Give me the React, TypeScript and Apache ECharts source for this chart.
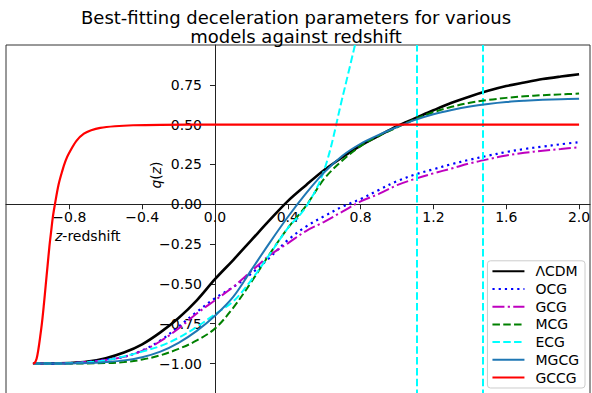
import React, { useEffect, useRef } from "react";
import * as echarts from "echarts";

const FONT = "DejaVu Sans";

const titleLines = ["Best-fitting deceleration parameters for various", "models against redshift"];
const seriesNames = ["ΛCDM", "OCG", "GCG", "MCG", "ECG", "MGCG", "GCCG"];

const xTicks = [-0.8, -0.4, 0.0, 0.4, 0.8, 1.2, 1.6, 2.0];
const yTicks = [-1.0, -0.75, -0.5, -0.25, 0.0, 0.25, 0.5, 0.75];

const zGrid = [
  -1.0, -0.9, -0.8, -0.7, -0.6, -0.5, -0.4, -0.3, -0.2, -0.1, 0.0, 0.1, 0.2, 0.3, 0.4, 0.5, 0.6, 0.7, 0.8, 0.9,
  1.0, 1.1, 1.2, 1.3, 1.4, 1.5, 1.6, 1.7, 1.8, 1.9, 2.0,
];

const lcdmQ = [
  -1.0, -1.0, -0.997, -0.988, -0.966, -0.931, -0.879, -0.804, -0.714, -0.603, -0.47, -0.35, -0.225, -0.1, 0.02,
  0.12, 0.215, 0.295, 0.368, 0.43, 0.49, 0.54, 0.59, 0.637, 0.677, 0.712, 0.742, 0.765, 0.786, 0.802, 0.816,
];
const ocgQ = [
  -1.0, -1.0, -0.997, -0.99, -0.975, -0.958, -0.918, -0.855, -0.768, -0.676, -0.59, -0.52, -0.435, -0.335, -0.225,
  -0.14, -0.075, -0.015, 0.033, 0.09, 0.145, 0.187, 0.22, 0.252, 0.28, 0.305, 0.328, 0.347, 0.362, 0.377, 0.39,
];
const gcgQ = [
  -1.0, -1.0, -0.998, -0.99, -0.977, -0.958, -0.92, -0.86, -0.78, -0.686, -0.603, -0.519, -0.42, -0.32, -0.245,
  -0.168, -0.11, -0.046, 0.018, 0.065, 0.12, 0.16, 0.194, 0.225, 0.257, 0.283, 0.306, 0.323, 0.336, 0.347, 0.358,
];
const mcgQ = [
  -1.0, -1.0, -1.0, -0.999, -0.997, -0.991, -0.975, -0.948, -0.908, -0.855, -0.78, -0.65, -0.487, -0.313, -0.15,
  -0.01, 0.16, 0.275, 0.365, 0.43, 0.483, 0.535, 0.578, 0.612, 0.637, 0.655, 0.668, 0.678, 0.685, 0.69, 0.695,
];
const ecgQ = [
  -1.0, -1.0, -0.998, -0.992, -0.98, -0.955, -0.925, -0.89, -0.838, -0.77, -0.69, -0.61, -0.475, -0.315, -0.15,
  -0.017, 0.215, 0.67, 1.15,
];
const ecgPoles = [1.114, 1.474];
const mgcgQ = [
  -1.0, -1.0, -0.999, -0.997, -0.99, -0.98, -0.96, -0.925, -0.87, -0.795, -0.7, -0.582, -0.412, -0.242, -0.08,
  0.068, 0.2, 0.305, 0.38, 0.436, 0.485, 0.53, 0.565, 0.592, 0.614, 0.63, 0.642, 0.65, 0.656, 0.66, 0.663,
];
const gccgZ = [
  -1.0, -0.99, -0.98, -0.97, -0.96, -0.95, -0.94, -0.93, -0.92, -0.91, -0.9, -0.89, -0.88, -0.86, -0.84, -0.82,
  -0.8, -0.76, -0.72, -0.68, -0.63, -0.55, -0.45, -0.3, 0.0, 0.5, 1.0, 1.5, 2.0,
];
const gccgQ = [
  -1.0, -0.995, -0.97, -0.91, -0.83, -0.74, -0.63, -0.51, -0.39, -0.27, -0.17, -0.075, -0.005, 0.12, 0.205, 0.275,
  0.325, 0.4, 0.443, 0.465, 0.48, 0.49, 0.496, 0.499, 0.5, 0.5, 0.5, 0.5, 0.5,
];

const pair = (zs: number[], qs: number[]) => qs.map((q, i) => [zs[i], q]);
const minus = (s: string) => s.replace("-", "\u2212");

const X_MIN = -1.148;
const X_MAX = 2.06;
const Y_MIN = -1.21;
const Y_MAX = 1.0;
const G_LEFT = 6;
const G_TOP = 45;
const G_W = 584;
const G_H = 352;

export default function App() {
  const ref = useRef<HTMLDivElement>(null);
  useEffect(() => {
    document.body.style.margin = "0";
    if (!ref.current) return;
    const chart = echarts.init(ref.current, null, { renderer: "svg" });
    const zeroX = ((0 - X_MIN) / (X_MAX - X_MIN)) * G_W;
    const zeroYFromBottom = ((0 - Y_MIN) / (Y_MAX - Y_MIN)) * G_H;
    const mk = (name: string, data: number[][], color: string, width: number, type: any, z: number, extra: any = {}) => ({
      type: "line",
      name,
      data,
      symbol: "none",
      showSymbol: false,
      smooth: 0.35,
      clip: true,
      z,
      itemStyle: { color },
      lineStyle: { color, width, type },
      emphasis: { disabled: true },
      ...extra,
    });
    chart.setOption({
      animation: false,
      title: {
        text: titleLines.join("\n"),
        left: "center",
        top: 7.5,
        padding: 0,
        textStyle: { fontFamily: FONT, fontSize: 18, fontWeight: "normal", color: "#000", lineHeight: 19 },
      },
      grid: {
        left: G_LEFT,
        top: G_TOP,
        width: G_W,
        height: G_H,
        containLabel: false,
        outerBoundsMode: "none",
        show: true,
        borderColor: "#333",
        borderWidth: 1,
      },
      xAxis: {
        type: "value",
        min: X_MIN,
        max: X_MAX,
        position: "bottom",
        offset: -zeroYFromBottom,
        axisLine: { show: true, onZero: false, lineStyle: { color: "#222", width: 1 } },
        axisTick: { show: true, length: 5, customValues: xTicks, lineStyle: { color: "#222" } },
        axisLabel: {
          customValues: xTicks,
          formatter: (v: number) => minus(v.toFixed(1)),
          margin: 6,
          fontFamily: FONT,
          fontSize: 14,
          color: "#000",
        },
        splitLine: { show: false },
      },
      yAxis: {
        type: "value",
        min: Y_MIN,
        max: Y_MAX,
        position: "left",
        offset: -zeroX,
        axisLine: { show: true, onZero: false, lineStyle: { color: "#222", width: 1 } },
        axisTick: { show: true, length: 5, customValues: yTicks, lineStyle: { color: "#222" } },
        axisLabel: {
          customValues: yTicks,
          formatter: (v: number) => minus(v.toFixed(2)),
          margin: 13,
          fontFamily: FONT,
          fontSize: 14,
          color: "#000",
        },
        splitLine: { show: false },
      },
      legend: {
        data: seriesNames,
        orient: "vertical",
        right: 7,
        bottom: 5,
        itemWidth: 32,
        itemHeight: 13.5,
        itemGap: 3.7,
        padding: [3.5, 6, 3.5, 4],
        selectedMode: false,
        borderColor: "#cccccc",
        borderWidth: 1,
        borderRadius: 3,
        backgroundColor: "rgba(255,255,255,0.85)",
        itemStyle: { opacity: 0, borderWidth: 0 },
        textStyle: { fontFamily: FONT, fontSize: 14, color: "#000", padding: [0, 0, 0, 6] },
      },
      graphic: [
        {
          type: "text",
          x: 156,
          y: 175,
          rotation: Math.PI / 2,
          style: {
            text: "{i|q}({i|z})",
            fontFamily: FONT,
            fontSize: 14,
            fill: "#000",
            align: "center",
            verticalAlign: "middle",
            rich: { i: { fontFamily: FONT, fontSize: 14, fontStyle: "italic", fill: "#000" } },
          },
        },
        {
          type: "text",
          x: 55,
          y: 236,
          style: {
            text: "{i|z}-redshift",
            fontFamily: FONT,
            fontSize: 14,
            fill: "#000",
            align: "left",
            verticalAlign: "middle",
            rich: { i: { fontFamily: FONT, fontSize: 14, fontStyle: "italic", fill: "#000" } },
          },
        },
      ],
      series: [
        mk(seriesNames[0], pair(zGrid, lcdmQ), "#000000", 2.6, "solid", 2),
        mk(seriesNames[1], pair(zGrid, ocgQ), "#0000ff", 2.2, [2.2, 4], 3),
        mk(seriesNames[2], pair(zGrid, gcgQ), "#bf00bf", 2, [12, 3.3, 2.2, 3.3], 4),
        mk(seriesNames[3], pair(zGrid, mcgQ), "#008000", 2, [7.5, 3.3], 5),
        mk(seriesNames[4], pair(zGrid, ecgQ), "#00ffff", 2, [7.5, 3.3], 6, {
          markLine: {
            silent: true,
            symbol: ["none", "none"],
            label: { show: false },
            emphasis: { disabled: true },
            lineStyle: { color: "#00ffff", width: 2, type: [7.5, 3.3] },
            data: ecgPoles.map((p) => ({ xAxis: p })),
          },
        }),
        mk(seriesNames[5], pair(zGrid, mgcgQ), "#1f77b4", 2, "solid", 7),
        mk(seriesNames[6], pair(gccgZ, gccgQ), "#ff0000", 2.2, "solid", 8),
      ],
    });
    return () => chart.dispose();
  }, []);
  return <div ref={ref} style={{ width: 592, height: 393 }} />;
}
